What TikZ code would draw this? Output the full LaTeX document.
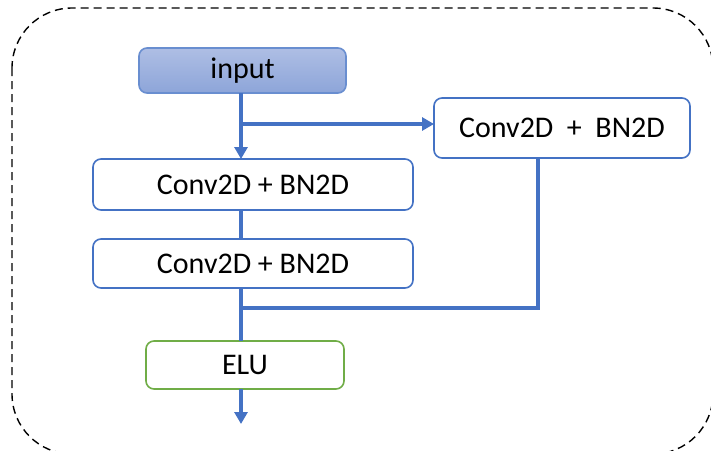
\documentclass[tikz,border=0pt]{standalone}
\usepackage{fontspec}
\setmainfont{Carlito}
\usetikzlibrary{arrows.meta}

\definecolor{lineblue}{HTML}{4472C4}
\definecolor{boxgreen}{HTML}{70AD47}
\definecolor{inputtop}{HTML}{AEBEE4}
\definecolor{inputbot}{HTML}{8DA5D9}

\begin{document}
\begin{tikzpicture}[x=0.5pt, y=-0.5pt,
  every node/.style={font=\fontsize{15}{18}\selectfont, inner sep=0pt, outer sep=0pt},
  block/.style={draw=lineblue, line width=0.8pt, rounded corners=4pt, fill=white},
  flow/.style={draw=lineblue, line width=2pt},
  tip/.style={-{Triangle[length=6pt,width=6.5pt]}}]
\useasboundingbox (0,0) rectangle (711,450);
\begin{scope}
\clip (0,0) rectangle (711,450);
\draw[dash pattern=on 4pt off 2.5pt, line width=0.7pt, rounded corners=30pt] (12,8) rectangle (713,454);
\end{scope}

\node[block, draw=lineblue!80, top color=inputtop, bottom color=inputbot, minimum width=103.5pt, minimum height=22.5pt] (input) at (242.5,70.5) {input};
\node[block, minimum width=128pt, minimum height=30pt] (conv3) at (562,128) {Conv2D\ \ +\ \ BN2D};
\node[block, minimum width=160pt, minimum height=25.5pt] (conv1) at (253,184.5) {Conv2D + BN2D};
\node[block, minimum width=160pt, minimum height=24.5pt] (conv2) at (253,263.5) {Conv2D + BN2D};
\node[block, draw=boxgreen, minimum width=99pt, minimum height=24pt] (elu) at (245,365) {ELU};

\coordinate (split) at (241,124);
\coordinate (merge) at (241,308);
\coordinate (out) at (241,424);

\draw[flow, tip] (input.south -| split) -- (conv1.north -| split);
\draw[flow, tip] (split) -- (conv3.west |- split);
\draw[flow] (conv1.south -| split) -- (conv2.north -| split);
\draw[flow] (conv2.south -| merge) -- (elu.north -| merge);
\draw[flow] (conv3.south -| 538,0) |- (merge);
\draw[flow, tip] (elu.south -| out) -- (out);
\end{tikzpicture}
\end{document}
